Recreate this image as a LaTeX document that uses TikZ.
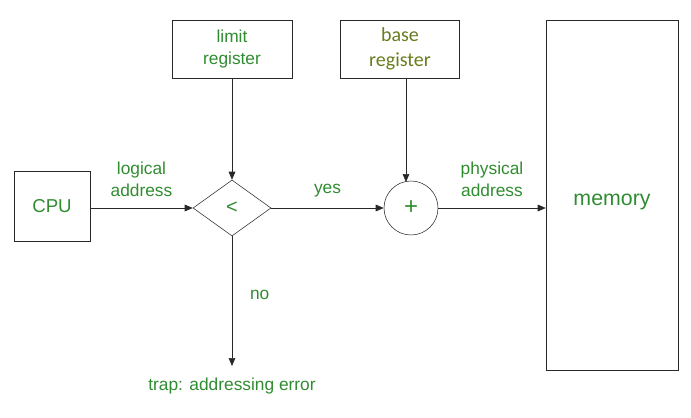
\documentclass[tikz,border=0pt]{standalone}
\usepackage{fontspec}
\setmainfont{Liberation Sans}
\newfontfamily\calibrifont{Carlito}
\usetikzlibrary{shapes.geometric,arrows.meta}
\definecolor{txtgreen}{RGB}{48,140,48}
\definecolor{basegreen}{RGB}{105,125,30}
\definecolor{linegray}{RGB}{40,40,40}
\begin{document}
\begin{tikzpicture}[x=0.75pt,y=-0.75pt,thin,
	box/.style={draw=linegray,rectangle,inner sep=0pt},
	lbl/.style={text=txtgreen,font=\fontsize{13}{16.5}\selectfont,align=center},
	arr/.style={draw=linegray,-{Triangle[length=6pt,width=5pt]}}]
	\useasboundingbox (0,0) rectangle (691,417);
	
	\node (cpu) at (52,206) [box,minimum width=57pt,minimum height=52.5pt,lbl,font=\fontsize{14}{16}\selectfont]{CPU};
	\node (limit) at (232,49) [box,minimum width=90pt,minimum height=43.5pt,lbl]{limit\\register};
	\node (base) at (400,49) [box,minimum width=89pt,minimum height=43.5pt,lbl,text=basegreen,font=\calibrifont\fontsize{15}{18.5}\selectfont]{base\\register};
	\node (cmp) at (232,208) [diamond,draw=linegray,aspect=1.4,minimum width=58.5pt,minimum height=42pt,inner sep=0pt,lbl,font=\fontsize{15}{17}\selectfont]{<};
	\node (plus) at (411,208) [circle,draw=linegray,minimum size=40.5pt,inner sep=0pt,lbl,font=\fontsize{18}{20}\selectfont]{+};
	\node (mem) at (612,195) [box,minimum width=99pt,minimum height=262.5pt]{};
	\node (memtxt) at (612,202) [lbl,font=\fontsize{16}{18}\selectfont]{memory};
	\coordinate (trap) at (232,366);
	\node (err) at (232,386) [lbl]{trap: addressing error};
	
	\draw [arr] (cpu.east |- cmp) -- node [lbl,above=5pt] {logical\\address} (cmp.west);
	\draw [arr] (limit) -- (cmp.north);
	\draw [arr] (cmp.east) -- node [lbl,above=5pt] {yes} (plus.west);
	\draw [arr] (base.south -| 406,0) -- (406,182);
	\draw [arr] (plus.east) -- node [lbl,above=5pt] {physical\\address} (mem.west |- plus);
	\draw [arr] (cmp.south) -- node [lbl,pos=0.45,right=10pt] {no} (trap);
\end{tikzpicture}
\end{document}
